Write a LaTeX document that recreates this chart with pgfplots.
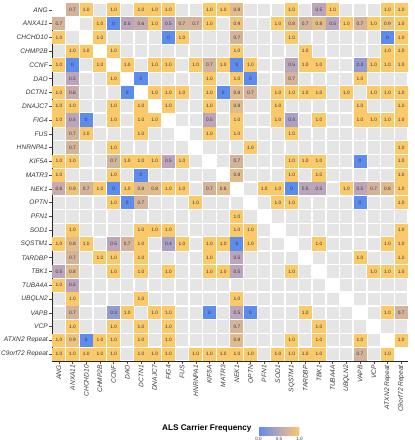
\documentclass[border=0pt]{standalone}
\usepackage{fontspec}
\setmainfont{Liberation Sans}
\usepackage{pgfplots}
\usepackage{pgfplotstable}
\pgfplotsset{compat=1.18}
\usetikzlibrary{calc}
\definecolor{cellgray}{RGB}{229,229,229}
\definecolor{labgray}{RGB}{55,55,55}
\definecolor{numgray}{RGB}{55,55,55}

% c = column gene index, r = row gene index (0 = ANG at top), v = frequency, t = printed text
\pgfplotstableread{
c r v t
1 0 0.7 0.7
2 0 1 1.0
4 0 1 1.0
6 0 1 1.0
7 0 1 1.0
8 0 1 1.0
11 0 1 1.0
12 0 1 1.0
13 0 0.8 0.8
17 0 1 1.0
19 0 0.5 0.5
20 0 1 1.0
24 0 1 1.0
25 0 1 1.0
0 1 0.7 0.7
3 1 1 1.0
4 1 0 0
5 1 0.5 0.5
6 1 0.6 0.6
7 1 1 1.0
8 1 0.5 0.5
9 1 0.7 0.7
10 1 0.7 0.7
11 1 1 1.0
13 1 0.9 0.9
16 1 1 1.0
17 1 0.8 0.8
18 1 0.7 0.7
19 1 0.8 0.8
20 1 0.5 0.5
21 1 1 1.0
22 1 0.7 0.7
23 1 1 1.0
24 1 0.9 0.9
25 1 1 1.0
0 2 1 1.0
3 2 1 1.0
8 2 0 0
9 2 1 1.0
13 2 0.7 0.7
17 2 1 1.0
24 2 0 0
25 2 1 1.0
1 3 1 1.0
2 3 1 1.0
4 3 1 1.0
13 3 1 1.0
18 3 1 1.0
24 3 1 1.0
25 3 1 1.0
0 4 1 1.0
1 4 0 0
3 4 1 1.0
5 4 1 1.0
7 4 1 1.0
8 4 1 1.0
10 4 1 1.0
11 4 0.7 0.7
12 4 1 1.0
13 4 0 0
14 4 1 1.0
17 4 0.5 0.5
18 4 1 1.0
19 4 1 1.0
22 4 0.3 0.3
23 4 1 1.0
24 4 1 1.0
25 4 1 1.0
1 5 0.5 0.5
4 5 1 1.0
6 5 0 0
11 5 1 1.0
13 5 1 1.0
14 5 0 0
17 5 0.7 0.7
22 5 1 1.0
0 6 1 1.0
1 6 0.6 0.6
5 6 0 0
7 6 1 1.0
8 6 1 1.0
9 6 1 1.0
11 6 1 1.0
12 6 0 0
13 6 0.8 0.8
14 6 0.7 0.7
16 6 1 1.0
17 6 1 1.0
18 6 1 1.0
19 6 1 1.0
21 6 1 1.0
23 6 1 1.0
24 6 1 1.0
25 6 1 1.0
0 7 1 1.0
1 7 1 1.0
4 7 1 1.0
6 7 1 1.0
8 7 1 1.0
11 7 1 1.0
13 7 0.8 0.8
16 7 1 1.0
22 7 1 1.0
25 7 1 1.0
0 8 1 1.0
1 8 0.5 0.5
2 8 0 0
4 8 1 1.0
6 8 1 1.0
7 8 1 1.0
11 8 0.5 0.5
13 8 1 1.0
16 8 1 1.0
17 8 0.4 0.4
19 8 1 1.0
22 8 1 1.0
23 8 1 1.0
24 8 1 1.0
25 8 1 1.0
1 9 0.7 0.7
2 9 1 1.0
6 9 1 1.0
11 9 1 1.0
13 9 1 1.0
17 9 1 1.0
1 10 0.7 0.7
4 10 1 1.0
14 10 1 1.0
25 10 1 1.0
0 11 1 1.0
1 11 1 1.0
4 11 0.7 0.7
5 11 1 1.0
6 11 1 1.0
7 11 1 1.0
8 11 0.5 0.5
9 11 1 1.0
13 11 0.7 0.7
17 11 1 1.0
18 11 1 1.0
19 11 1 1.0
22 11 0 0
25 11 1 1.0
0 12 1 1.0
4 12 1 1.0
6 12 0 0
13 12 0.8 0.8
17 12 1 1.0
19 12 1 1.0
25 12 1 1.0
0 13 0.6 0.6
1 13 0.9 0.9
2 13 0.7 0.7
3 13 1 1.0
4 13 0 0
5 13 1 1.0
6 13 0.8 0.8
7 13 0.8 0.8
8 13 1 1.0
9 13 1 1.0
11 13 0.7 0.7
12 13 0.8 0.8
15 13 1 1.0
16 13 1 1.0
17 13 0 0
18 13 0.5 0.5
19 13 0.5 0.5
21 13 1 1.0
22 13 0.5 0.5
23 13 0.7 0.7
24 13 0.8 0.8
25 13 1 1.0
4 14 1 1.0
5 14 0 0
6 14 0.7 0.7
10 14 1 1.0
16 14 1 1.0
17 14 1 1.0
22 14 0 0
25 14 1 1.0
13 15 1 1.0
1 16 1 1.0
6 16 1 1.0
7 16 1 1.0
8 16 1 1.0
13 16 1 1.0
14 16 1 1.0
25 16 1 1.0
0 17 1 1.0
1 17 0.8 0.8
2 17 1 1.0
4 17 0.5 0.5
5 17 0.7 0.7
6 17 1 1.0
8 17 0.4 0.4
9 17 1 1.0
11 17 1 1.0
12 17 1 1.0
13 17 0 0
14 17 1 1.0
19 17 1 1.0
24 17 1 1.0
25 17 1 1.0
1 18 0.7 0.7
3 18 1 1.0
4 18 1 1.0
6 18 1 1.0
11 18 1 1.0
13 18 0.5 0.5
22 18 1 1.0
25 18 1 1.0
0 19 0.5 0.5
1 19 0.8 0.8
4 19 1 1.0
6 19 1 1.0
8 19 1 1.0
11 19 1 1.0
12 19 1 1.0
13 19 0.5 0.5
17 19 1 1.0
23 19 1 1.0
24 19 1 1.0
25 19 1 1.0
0 20 1 1.0
1 20 0.5 0.5
1 21 1 1.0
6 21 1 1.0
13 21 1 1.0
1 22 0.7 0.7
4 22 0.3 0.3
5 22 1 1.0
7 22 1 1.0
8 22 1 1.0
11 22 0 0
13 22 0.5 0.5
14 22 0 0
18 22 1 1.0
24 22 1 1.0
25 22 0.7 0.7
1 23 1 1.0
4 23 1 1.0
6 23 1 1.0
8 23 1 1.0
13 23 0.7 0.7
19 23 1 1.0
0 24 1 1.0
1 24 0.9 0.9
2 24 0 0
3 24 1 1.0
4 24 1 1.0
6 24 1 1.0
8 24 1 1.0
13 24 0.8 0.8
17 24 1 1.0
19 24 1 1.0
22 24 1 1.0
25 24 1 1.0
0 25 1 1.0
1 25 1 1.0
2 25 1 1.0
3 25 1 1.0
4 25 1 1.0
6 25 1 1.0
7 25 1 1.0
8 25 1 1.0
10 25 1 1.0
11 25 1 1.0
12 25 1 1.0
13 25 1 1.0
14 25 1 1.0
16 25 1 1.0
17 25 1 1.0
18 25 1 1.0
19 25 1 1.0
22 25 0.7 0.7
24 25 1 1.0
}\cells

\begin{document}
\begin{tikzpicture}
\begin{axis}[
  name=main,
  scale only axis, width=356pt, height=358pt,
  xmin=-0.5, xmax=25.5, ymin=-0.5, ymax=25.5,
  axis x line*=bottom, axis y line*=left,
  axis line style={draw=black!85, line width=0.5pt},
  axis background/.style={fill=cellgray, draw=white, line width=1.6pt},
  xtick={0,...,25}, ytick={0,...,25},
  xticklabels={ANG,ANXA11,CHCHD10,CHMP2B,CCNF,DAO,DCTN1,DNAJC7,FIG4,FUS,HNRNPA1,KIF5A,MATR3,NEK1,OPTN,PFN1,SOD1,SQSTM1,TARDBP,TBK1,TUBA4A,UBQLN2,VAPB,VCP,ATXN2 Repeat,C9orf72 Repeat},
  yticklabels={C9orf72 Repeat,ATXN2 Repeat,VCP,VAPB,UBQLN2,TUBA4A,TBK1,TARDBP,SQSTM1,SOD1,PFN1,OPTN,NEK1,MATR3,KIF5A,HNRNPA1,FUS,FIG4,DNAJC7,DCTN1,DAO,CCNF,CHMP2B,CHCHD10,ANXA11,ANG},
  x tick label style={rotate=90, anchor=east, inner sep=1.5pt},
  y tick label style={anchor=east, inner sep=1.5pt},
  tick label style={font=\fontsize{6.6}{7}\selectfont\itshape, text=labgray},
  tick align=outside, major tick length=2.5pt,
  tick style={draw=black!70, line width=0.5pt},
  minor xtick={0.5,1.5,...,24.5}, minor ytick={0.5,1.5,...,24.5},
  minor tick length=0pt,
  xminorgrids, yminorgrids,
  minor grid style={white, line width=1.6pt},
  colormap={als}{rgb255(0)=(92,140,238) rgb255(0.5)=(187,165,187) rgb255(1)=(250,201,106)},
  point meta min=0, point meta max=1,
  colorbar horizontal,
  colorbar style={
    at={($(parent axis.south west)+(206.5pt,-62pt)$)}, anchor=west,
    scale only axis, width=41pt, height=8.5pt,
    xtick={0,0.5,1}, xticklabels={0.0,0.5,1.0},
    xticklabel style={font=\fontsize{4.6}{5}\selectfont, text=labgray, rotate=0, anchor=north, inner sep=1pt},
    xtick style={draw=none},
    axis line style={draw=none},
  },
  clip=false,
]
% diagonal cells are white
\addplot[only marks, mark=square*, mark size=6.3pt, mark options={fill=white, draw=white, line width=0pt}]
  coordinates {(0,25) (1,24) (2,23) (3,22) (4,21) (5,20) (6,19) (7,18) (8,17) (9,16) (10,15) (11,14) (12,13)
               (13,12) (14,11) (15,10) (16,9) (17,8) (18,7) (19,6) (20,5) (21,4) (22,3) (23,2) (24,1) (25,0)};
% carrier frequency tiles
\addplot[scatter, only marks, mark=square*, mark size=6.05pt,
  scatter src=explicit,
  mark options={line width=0pt},
  scatter/use mapped color={draw=mapped color, fill=mapped color}]
  table[x=c, y expr=25-\thisrow{r}, meta=v] {\cells};
% printed values
\addplot[only marks, mark=none, point meta=explicit symbolic,
  nodes near coords,
  nodes near coords style={anchor=center, inner sep=0pt, font=\fontsize{4.8}{5}\selectfont, text=numgray}]
  table[x=c, y expr=25-\thisrow{r}, meta=t] {\cells};
\end{axis}
\node[anchor=base east, font=\bfseries\fontsize{8.2}{9}\selectfont, text=black]
  at ($(main.south west)+(203pt,-69.5pt)$) {ALS Carrier Frequency};
\pgfresetboundingbox
\path ($(main.south west)+(-52pt,-79pt)$) rectangle ($(main.north east)+(7pt,3pt)$);
\end{tikzpicture}
\end{document}
